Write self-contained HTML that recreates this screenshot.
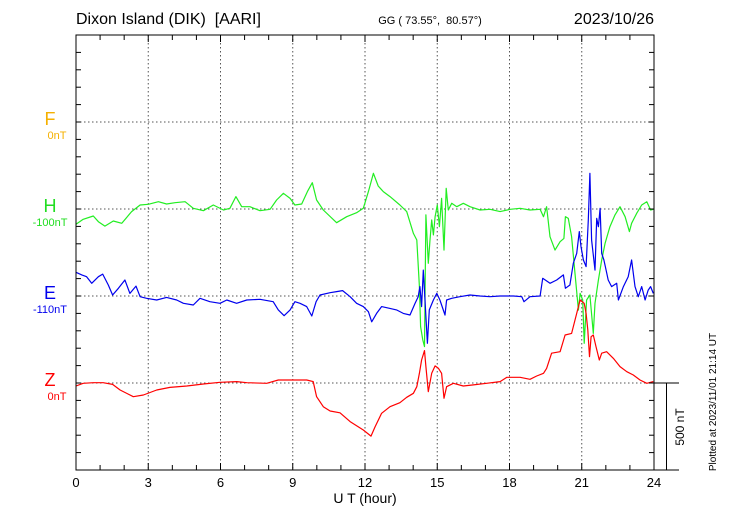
<!DOCTYPE html>
<html><head><meta charset="utf-8">
<style>
body{margin:0;background:#fff;}
svg{display:block;font-family:"Liberation Sans",sans-serif;}
</style></head>
<body>
<svg id="chart" width="730" height="520" viewBox="0 0 730 520" xmlns="http://www.w3.org/2000/svg">
<text x="76" y="24" font-size="16">Dixon Island (DIK)&#160;&#160;[AARI]</text>
<text x="430" y="24" font-size="11" text-anchor="middle">GG ( 73.55°,&#160;&#160;80.57°)</text>
<text x="654" y="24" font-size="16" text-anchor="end">2023/10/26</text>
<g id="grid"></g>
<g id="series"></g>
<rect x="76" y="35" width="578" height="435" fill="none" stroke="#000" stroke-width="1"/>
<g id="axes"></g>
<text x="50" y="125" font-size="18" fill="#f5b000" text-anchor="middle">F</text>
<text x="57" y="139" font-size="11" fill="#f5b000" text-anchor="middle">0nT</text>
<text x="50" y="212" font-size="18" fill="#22dd22" text-anchor="middle">H</text>
<text x="50" y="226" font-size="11" fill="#22dd22" text-anchor="middle">-100nT</text>
<text x="50" y="299" font-size="18" fill="#0000ee" text-anchor="middle">E</text>
<text x="50" y="313" font-size="11" fill="#0000ee" text-anchor="middle">-110nT</text>
<text x="50" y="386" font-size="18" fill="#ff0000" text-anchor="middle">Z</text>
<text x="57" y="400" font-size="11" fill="#ff0000" text-anchor="middle">0nT</text>
<line x1="654" y1="383" x2="679" y2="383" stroke="#000"/>
<line x1="654" y1="470" x2="679" y2="470" stroke="#000"/>
<line x1="666.5" y1="383" x2="666.5" y2="470" stroke="#000"/>
<text transform="translate(684,427) rotate(-90)" font-size="12" text-anchor="middle">500 nT</text>
<text x="365" y="503" font-size="14" text-anchor="middle">U T (hour)</text>
<text transform="translate(716,402) rotate(-90)" font-size="10" text-anchor="middle">Plotted at 2023/11/01 21:14 UT</text>
</svg>
<script>
const xTickLabels=["0","3","6","9","12","15","18","21","24"];
const hH=[0,0.30,0.72,0.93,1.20,1.55,1.90,2.31,2.66,3.00,3.42,3.76,4.11,4.53,4.87,5.29,5.70,6.12,6.39,6.64,6.88,7.22,7.64,8.06,8.33,8.61,8.89,9.09,9.37,9.61,9.81,9.99,10.27,10.82,11.24,11.65,11.93,12.14,12.35,12.55,12.76,13.04,13.45,13.73,14.01,14.15,14.26,14.31,14.40,14.47,14.53,14.63,14.70,14.77,14.84,14.91,15.00,15.09,15.18,15.28,15.37,15.46,15.60,15.81,16.08,16.36,16.78,17.19,17.61,18.03,18.44,18.85,19.27,19.41,19.54,19.68,19.89,20.10,20.26,20.32,20.44,20.58,20.72,20.86,20.93,21.04,21.10,21.20,21.34,21.48,21.55,21.69,21.83,21.97,22.17,22.38,22.59,22.80,22.98,23.07,23.28,23.49,23.70,23.86,23.97];
const hV=[-88,-59,-40,-73,-98,-69,-82,-15,23,27,42,29,36,42,4,-10,23,-6,4,71,13,13,-10,-2,52,90,61,23,29,100,151,52,-6,-79,-44,-21,4,100,205,132,100,71,23,-15,-140,-178,-446,-676,-753,-791,-34,-312,-178,-63,-149,-44,23,-102,61,-236,119,-6,33,13,33,13,-6,-2,-15,-2,4,-6,-2,-44,13,-159,-236,-188,-169,-44,-54,-159,-370,-581,-485,-523,-772,-523,-494,-715,-542,-408,-293,-197,-102,-34,13,-44,-130,-82,-25,23,42,-6,-2];
const eH=[0,0.24,0.44,0.65,0.93,1.11,1.34,1.52,1.76,2.03,2.24,2.49,2.66,2.93,3.35,3.76,4.18,4.46,4.87,5.15,5.56,5.98,6.26,6.67,7.09,7.64,8.19,8.40,8.64,8.89,9.09,9.30,9.58,9.79,9.97,10.13,10.55,10.82,11.07,11.38,11.65,11.93,12.14,12.28,12.48,12.69,13.04,13.31,13.59,13.87,14.08,14.21,14.28,14.35,14.42,14.49,14.59,14.67,14.84,14.98,15.11,15.32,15.39,15.60,15.94,16.36,16.78,17.19,17.61,18.16,18.51,18.60,18.85,19.27,19.38,19.68,19.96,20.24,20.32,20.51,20.65,20.79,20.90,20.97,21.07,21.18,21.27,21.34,21.41,21.55,21.62,21.69,21.76,21.83,21.92,22.01,22.10,22.24,22.45,22.52,22.73,22.93,23.07,23.21,23.35,23.49,23.63,23.76,23.86,23.97];
const eV=[136,121,111,73,111,126,63,6,44,92,15,57,-4,-13,-23,-8,-23,-42,-52,-13,-33,-42,-23,-42,-23,-19,-33,-80,-113,-80,-33,-42,-61,-115,-33,6,19,25,31,-4,-42,-61,-90,-148,-100,-61,-71,-80,-100,-109,-42,-4,54,-61,149,-23,-272,-80,-23,15,-23,-109,-23,-13,-4,6,0,-4,0,0,-4,-33,-4,0,102,73,92,121,44,63,188,245,370,284,207,169,437,705,322,149,446,398,504,245,207,149,92,54,73,-23,54,111,207,54,-4,54,-23,34,54,15];
const zH=[0,0.30,0.72,1.13,1.52,1.83,2.38,2.80,3.35,3.90,4.60,5.29,5.98,6.67,7.09,7.92,8.40,9.02,9.58,9.85,9.99,10.27,10.55,10.96,11.38,11.93,12.25,12.42,12.69,13.04,13.45,13.73,14.01,14.15,14.26,14.35,14.47,14.53,14.63,14.77,14.91,15.05,15.18,15.28,15.39,15.67,16.08,16.50,17.05,17.61,17.89,18.44,18.85,19.13,19.41,19.54,19.75,20.10,20.31,20.58,20.79,20.93,21.10,21.18,21.25,21.32,21.39,21.48,21.59,21.73,21.83,22.03,22.31,22.59,22.87,23.14,23.42,23.70,23.97];
const zV=[-17,-2,2,2,-8,-40,-79,-69,-40,-25,-17,-6,4,8,2,-2,17,17,17,8,-79,-136,-161,-171,-222,-270,-305,-251,-174,-136,-113,-82,-59,-21,56,132,186,94,-50,56,98,84,56,-88,-21,-2,-17,-11,-2,8,33,33,21,40,56,84,171,180,276,285,400,477,458,400,305,151,266,276,209,132,171,180,142,94,65,46,17,-2,8];

const NS="http://www.w3.org/2000/svg";
const X0=76,X1=654,Y0=35,Y1=470,PXNT=0.174;
const xs=h=>X0+(X1-X0)*h/24;
const ys=(base,v)=>base-v*PXNT;
function mk(tag,attrs,parent){const e=document.createElementNS(NS,tag);for(const k in attrs)e.setAttribute(k,attrs[k]);parent.appendChild(e);return e;}
const grid=document.getElementById('grid'),axes=document.getElementById('axes'),series=document.getElementById('series');
for(let i=1;i<8;i++){
  const l=mk('line',{x1:xs(i*3),x2:xs(i*3),y1:Y0,y2:Y1,stroke:'#555','stroke-dasharray':'1.5,2.5'},grid);
  
  
}
[122,209,296,383].forEach(y=>{
  const l=mk('line',{x1:X0,x2:X1,y1:y,y2:y,stroke:'#555','stroke-dasharray':'1.5,2.5'},grid);
  
  
});
for(let h=0;h<=24;h++){
  const len=h%3===0?7:5;
  const a=mk('line',{x1:xs(h),x2:xs(h),y1:Y1,y2:Y1-len,stroke:'#000'},axes);
  
  
  const b=mk('line',{x1:xs(h),x2:xs(h),y1:Y0,y2:Y0+len,stroke:'#000'},axes);
  
  
}
for(let k=0;k<=25;k++){
  const y=Y1-k*100*PXNT;
  const a=mk('line',{x1:X0,x2:X0+5,y1:y,y2:y,stroke:'#000'},axes);
  
  
  const b=mk('line',{x1:X1,x2:X1-5,y1:y,y2:y,stroke:'#000'},axes);
  
  
}
xTickLabels.forEach((t,i)=>{
  const e=mk('text',{x:xs(i*3),y:487,'font-size':13,'text-anchor':'middle'},axes);
  e.textContent=t;
  
  
});
function line(H,V,base,color,name){
  const pts=H.map((h,i)=>xs(h).toFixed(1)+','+ys(base,V[i]).toFixed(1)).join(' ');
  const p=mk('polyline',{points:pts,fill:'none',stroke:color,'stroke-width':1.2,'stroke-linejoin':'round'},series);
  
  
}
line(hH,hV,209,'#22ee22','h-component-line');
line(eH,eV,296,'#0000ee','e-component-line');
line(zH,zV,383,'#ff0000','z-component-line');
</script>
</body></html>
